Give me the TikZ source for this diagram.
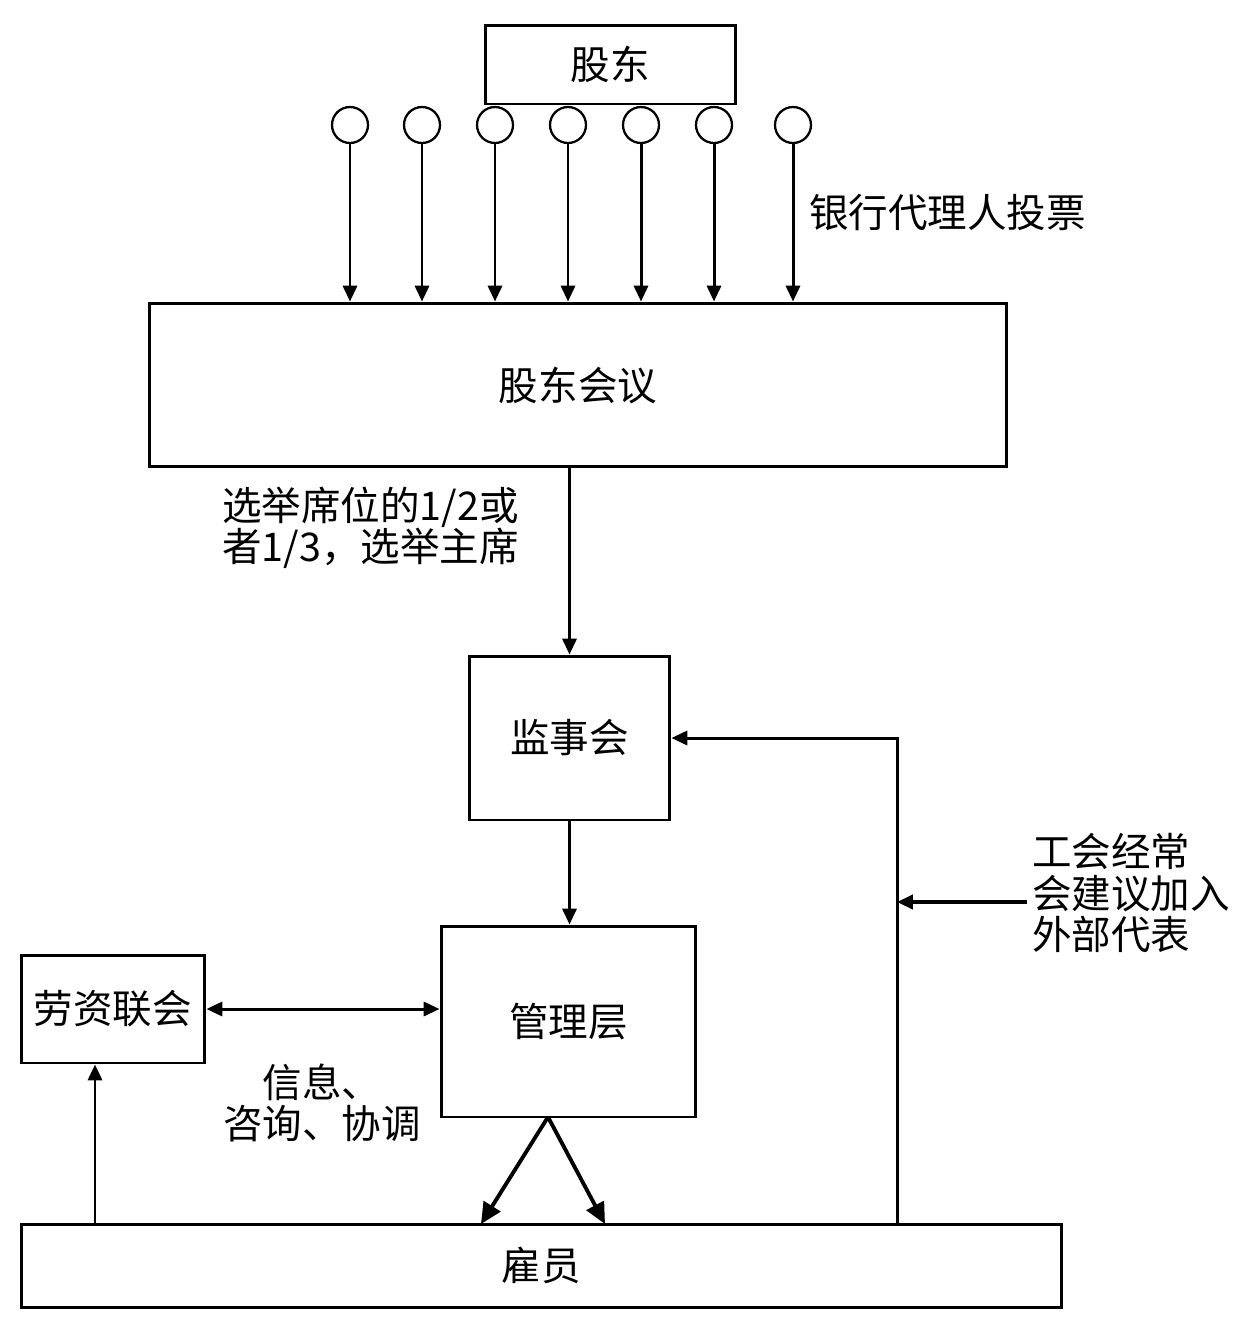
\documentclass[tikz,border=0pt]{standalone}
\usepackage{fontspec}
\setmainfont{Noto Sans CJK SC}
\usetikzlibrary{arrows.meta,positioning}

\begin{document}
\begin{tikzpicture}[x=0.02cm,y=-0.02cm,
    every node/.style={font=\fontsize{22.5}{23.5}\selectfont},
    box/.style={draw,line width=1.7pt,inner sep=0pt},
    voter/.style={draw,circle,line width=1.3pt,minimum size=0.72cm,inner sep=0pt},
    flow/.style={line width=1.7pt,-{Triangle[length=9pt,width=8pt]}},
    bigflow/.style={line width=2.2pt,-{Triangle[length=12pt,width=11pt]}}]

\useasboundingbox (0,0) rectangle (1239,1329);

% Boxes
\node[box,minimum width=5.02cm,minimum height=1.58cm] (gudong) at (610.5,64.5) {股东};
\node[box,minimum width=17.16cm,minimum height=3.28cm] (huiyi) at (578,385) {股东会议};
\node[box,minimum width=4.02cm,minimum height=3.28cm] (jianshi) at (569.5,738) {监事会};
\node[box,minimum width=5.1cm,minimum height=3.82cm] (guanli) at (568.5,1021.5) {管理层};
\node[box,minimum width=3.68cm,minimum height=2.16cm] (laozi) at (113,1009) {劳资联会};
\node[box,minimum width=20.82cm,minimum height=1.66cm] (guyuan) at (541.5,1265.5) {雇员};

% Proxy votes
\foreach \i/\x in {1/350,2/422,3/495,4/568,5/641,6/714,7/793}{
  \node[voter] (v\i) at (\x,125) {};
  \draw[flow] (v\i.south) -- (v\i.south |- huiyi.north);
}
\node[anchor=west] (proxy) at (803,213) {银行代理人投票};

% Election of the supervisory board
\draw[flow] (jianshi.north |- huiyi.south) -- (jianshi.north);
\node[anchor=west,align=left] (wahl) at (216,528) {选举席位的1/2或\\者1/3，选举主席};

\draw[flow] (jianshi.south) -- (jianshi.south |- guanli.north);

% Works council
\draw[line width=1.7pt,{Triangle[length=9pt,width=8pt]}-{Triangle[length=9pt,width=8pt]}]
  (laozi.east) -- (laozi.east -| guanli.west);
\node[align=center] (info) at (322,1103) {信息、\\咨询、协调};

% Management to employees
\coordinate (split) at (548,1117);
\coordinate (e1) at (481,1224);
\coordinate (e2) at (605,1224);
\draw[bigflow] (split) -- (e1);
\draw[bigflow] (split) -- (e2);

\coordinate (up) at (95,1224);
\draw[flow] (up) -- (up |- laozi.south);

% Employee representatives
\coordinate (fb) at (897,1224);
\draw[flow] (fb) |- (jianshi.east);
\coordinate (union) at (1027,902);
\draw[flow,line width=2pt] (union) -- (union -| fb);
\node[anchor=west,align=left] (gewerk) at (1026,893) {工会经常\\会建议加入\\外部代表};

\end{tikzpicture}
\end{document}
